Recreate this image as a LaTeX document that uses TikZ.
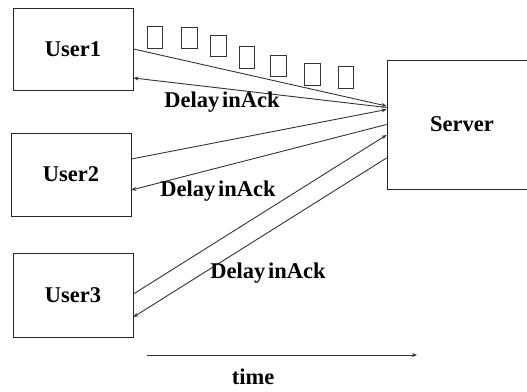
\documentclass[tikz,border=0pt]{standalone}
\usepackage{fontspec}
\setmainfont{Liberation Serif}
\usetikzlibrary{arrows.meta}
\tikzset{
  userbox/.style={draw=black!85,line width=0.9pt,minimum width=120pt,inner sep=0pt,
    font=\fontsize{22.5}{26}\selectfont\bfseries},
  packet/.style={draw=black!80,line width=0.8pt,minimum width=15.5pt,minimum height=21.5pt,inner sep=0pt},
  msg/.style={draw=black!80,line width=0.9pt,-{Stealth[length=5pt,width=4pt]}},
  lbl/.style={font=\fontsize{22.5}{26}\selectfont\bfseries,inner sep=0pt}
}
\begin{document}
\begin{tikzpicture}[x=1pt,y=-1pt]
    \useasboundingbox (0,0) rectangle (527,391);
    %% Users and server
    \node[userbox,minimum height=82pt] (user1) at (73,49) {User1};
    \node[userbox,minimum height=83pt] (user2) at (71,174.5) {User2};
    \node[userbox,minimum height=84pt] (user3) at (73,295) {User3};
    \node[userbox,minimum width=150pt,minimum height=129pt] (server) at (462,124.5) {Server};
    %% Packets sent by User1
    \foreach \px/\py [count=\i] in {155/37.5,189.5/38,218.5/46,247/57.5,278.5/66,312.5/74.5,346/77.5}
        \node[packet] (pkt\i) at (\px,\py) {};
    %% User1
    \draw[msg] (user1.east) -- ([yshift=18.5pt]server.west);
    \draw[msg] ([yshift=17pt]server.west) -- ([yshift=-29pt]user1.east);
    %% User2
    \draw[msg] ([yshift=15.5pt]user2.east) -- ([yshift=15pt]server.west);
    \draw[msg] (server.west) -- ([yshift=-15.5pt]user2.east);
    %% User3
    \draw[msg] ([yshift=1pt]user3.east) -- ([yshift=-10.5pt]server.west);
    \draw[msg] ([yshift=-33.5pt]server.west) -- ([yshift=-22pt]user3.east);
    %% Labels
    \node[lbl] (ack1) at (222,102) {Delay\hspace{0.12em}inAck};
    \node[lbl] (ack2) at (218,191) {Delay\hspace{0.12em}inAck};
    \node[lbl] (ack3) at (268,273) {Delay\hspace{0.12em}inAck};
    %% Time axis
    \coordinate (t0) at (147,355);
    \coordinate (t1) at (417,355);
    \draw[msg] (t0) -- (t1);
    \node[lbl] (time) at (253,377) {time};
\end{tikzpicture}
\end{document}
